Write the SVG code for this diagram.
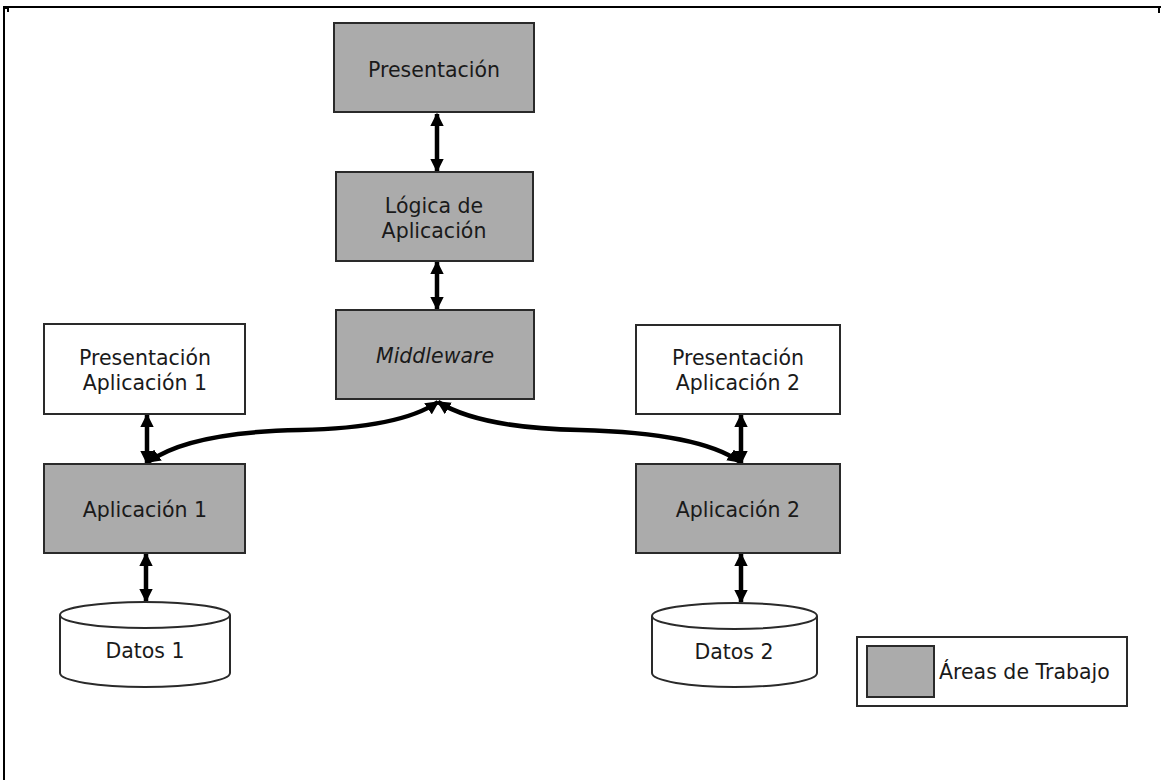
<svg xmlns="http://www.w3.org/2000/svg" width="1161" height="780" viewBox="0 0 1161 780">
  <style>
    .work { fill: #ababab; stroke: #2a2a2a; stroke-width: 2; }
    .plain { fill: #ffffff; stroke: #2a2a2a; stroke-width: 2; }
    .lbl { font-family: "DejaVu Sans", Verdana, sans-serif; font-size: 20.5px; fill: #1a1a1a; text-anchor: middle; }
    .conn { fill: none; stroke: #000; stroke-width: 4.5; marker-start: url(#head); marker-end: url(#head); }
    .frame { fill: none; stroke: #000; stroke-width: 2; }
  </style>
  <defs>
    <marker id="head" viewBox="0 0 10 10" refX="9" refY="5" markerWidth="3" markerHeight="3" orient="auto-start-reverse" markerUnits="strokeWidth">
      <path d="M0,0 L10,5 L0,10 Z" fill="#000"/>
    </marker>
  </defs>
  <rect width="1161" height="780" fill="#ffffff"/>

  <!-- page frame -->
  <g id="frame">
    <path class="frame" d="M4,780 L4,7 L1161,7"/>
    <path class="frame" d="M1159,7 L1159,13"/>
    <path class="frame" d="M3,8 L8,8 L8,12"/>
  </g>

  <!-- connectors -->
  <g id="connectors">
    <path class="conn" d="M437,114 L437,171"/>
    <path class="conn" d="M437,262 L437,309"/>
    <path class="conn" d="M147,415 L147,463"/>
    <path class="conn" d="M146,554 L146,601"/>
    <path class="conn" d="M741,415 L741,463"/>
    <path class="conn" d="M741,554 L741,602"/>
    <path class="conn" d="M438,402 Q 400,428 300,430 Q 190,432 148,462"/>
    <path class="conn" d="M438,402 Q 480,428 580,430 Q 700,433 740,462"/>
  </g>

  <g id="presentacion">
    <rect class="work" x="334" y="23" width="200" height="89"/>
    <text class="lbl" x="434" y="77">Presentación</text>
  </g>

  <g id="logica">
    <rect class="work" x="336" y="172" width="197" height="89"/>
    <text class="lbl" x="434" y="213">Lógica de</text>
    <text class="lbl" x="434" y="238">Aplicación</text>
  </g>

  <g id="middleware">
    <rect class="work" x="336" y="310" width="198" height="89"/>
    <text class="lbl" x="435" y="363" font-style="italic">Middleware</text>
  </g>

  <g id="presentacion-app1">
    <rect class="plain" x="44" y="324" width="201" height="90"/>
    <text class="lbl" x="145" y="365">Presentación</text>
    <text class="lbl" x="145" y="390">Aplicación 1</text>
  </g>

  <g id="aplicacion1">
    <rect class="work" x="44" y="464" width="201" height="89"/>
    <text class="lbl" x="145" y="517">Aplicación 1</text>
  </g>

  <g id="presentacion-app2">
    <rect class="plain" x="636" y="325" width="204" height="89"/>
    <text class="lbl" x="738" y="365">Presentación</text>
    <text class="lbl" x="738" y="390">Aplicación 2</text>
  </g>

  <g id="aplicacion2">
    <rect class="work" x="636" y="464" width="204" height="89"/>
    <text class="lbl" x="738" y="517">Aplicación 2</text>
  </g>

  <g id="datos1">
    <path class="plain" d="M60,615 L60,673 A85,14 0 0 0 230,673 L230,615"/>
    <ellipse class="plain" cx="145" cy="615" rx="85" ry="13"/>
    <text class="lbl" x="145" y="658">Datos 1</text>
  </g>

  <g id="datos2">
    <path class="plain" d="M652,616 L652,673 A82.5,14 0 0 0 817,673 L817,616"/>
    <ellipse class="plain" cx="734.5" cy="616" rx="82.5" ry="13"/>
    <text class="lbl" x="734" y="659">Datos 2</text>
  </g>

  <g id="leyenda">
    <rect class="plain" x="857" y="637" width="270" height="69"/>
    <rect class="work" x="867" y="646" width="67" height="51"/>
    <text class="lbl" x="939" y="679" style="text-anchor:start">Áreas de Trabajo</text>
  </g>
</svg>
